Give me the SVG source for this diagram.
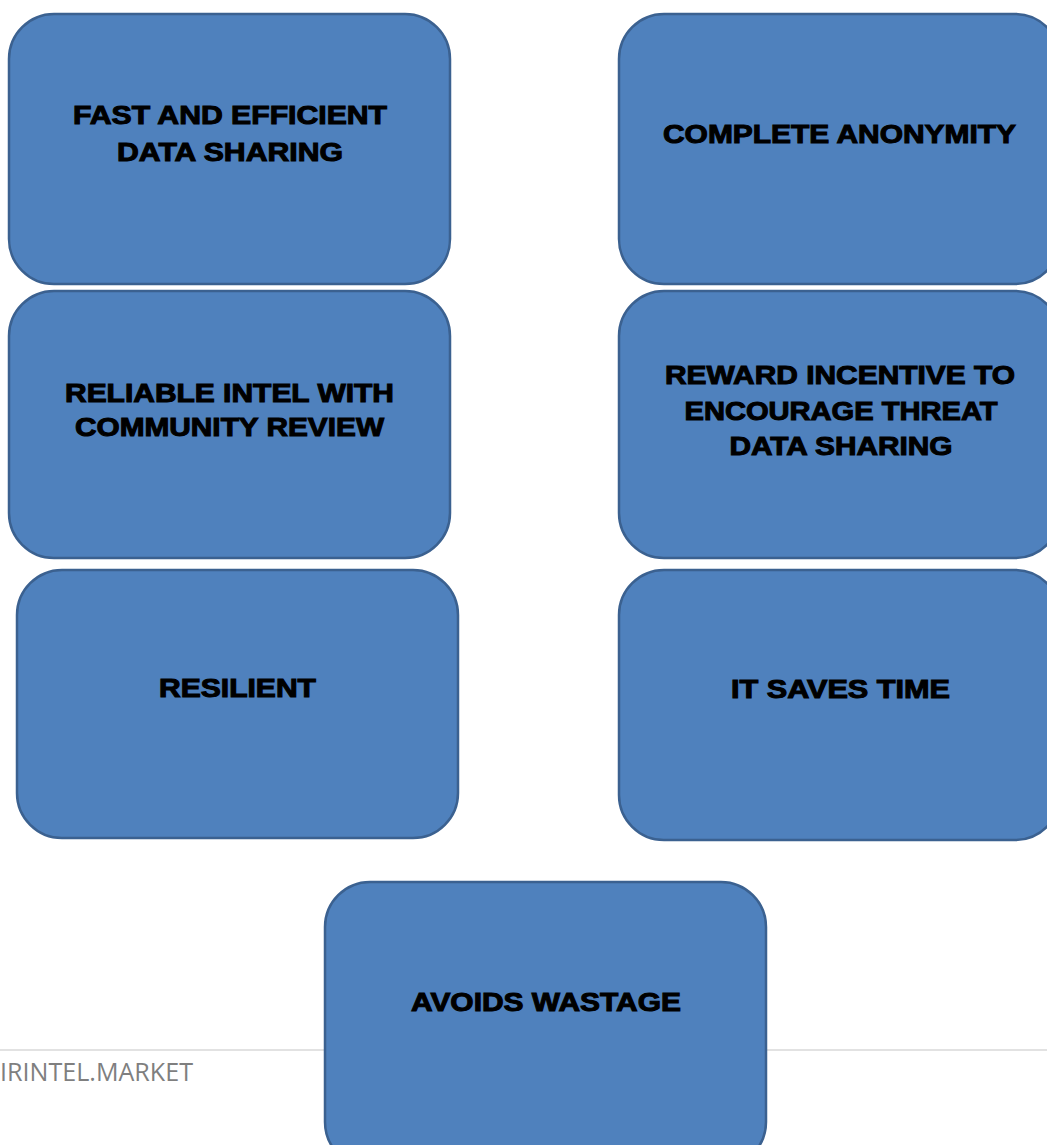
<svg xmlns="http://www.w3.org/2000/svg" width="1047" height="1145" viewBox="0 0 1047 1145">
<style>
.box{fill:#4f81bd;stroke:#3b6190;stroke-width:2.5}
.lbl{font-family:"Liberation Sans",Arial,sans-serif;font-weight:bold;font-size:25px;fill:#000;stroke:#000;stroke-width:1;text-anchor:middle}
.foot{font-family:"Open Sans","Liberation Sans",sans-serif;font-size:25px;fill:#7f7f7f}
</style>
<rect width="1047" height="1145" fill="#fff"/>
<g id="footer">
<line x1="0" y1="1050" x2="1047" y2="1050" stroke="#d9d9d9" stroke-width="1.5"/>
<text class="foot" x="0" y="1081" textLength="193" lengthAdjust="spacingAndGlyphs">IRINTEL.MARKET</text>
</g>
<g id="connectors"></g>
<g id="n1">
<rect class="box" x="9" y="14" width="441" height="270" rx="45"/>
<text class="lbl" x="230" y="124" textLength="314" lengthAdjust="spacingAndGlyphs">FAST AND EFFICIENT</text>
<text class="lbl" x="230" y="161" textLength="226" lengthAdjust="spacingAndGlyphs">DATA SHARING</text>
</g>
<g id="n2">
<rect class="box" x="619" y="14" width="441" height="270" rx="45"/>
<text class="lbl" x="839.5" y="143" textLength="353" lengthAdjust="spacingAndGlyphs">COMPLETE ANONYMITY</text>
</g>
<g id="n3">
<rect class="box" x="9" y="291" width="441" height="267" rx="45"/>
<text class="lbl" x="229.5" y="402" textLength="329" lengthAdjust="spacingAndGlyphs">RELIABLE INTEL WITH</text>
<text class="lbl" x="229.5" y="436" textLength="309" lengthAdjust="spacingAndGlyphs">COMMUNITY REVIEW</text>
</g>
<g id="n4">
<rect class="box" x="619" y="291" width="441" height="267" rx="45"/>
<text class="lbl" x="840" y="384" textLength="350" lengthAdjust="spacingAndGlyphs">REWARD INCENTIVE TO</text>
<text class="lbl" x="841" y="420" textLength="313" lengthAdjust="spacingAndGlyphs">ENCOURAGE THREAT</text>
<text class="lbl" x="841" y="455" textLength="223" lengthAdjust="spacingAndGlyphs">DATA SHARING</text>
</g>
<g id="n5">
<rect class="box" x="17" y="570" width="441" height="268" rx="45"/>
<text class="lbl" x="237.5" y="697" textLength="157" lengthAdjust="spacingAndGlyphs">RESILIENT</text>
</g>
<g id="n6">
<rect class="box" x="619" y="570" width="441" height="270" rx="45"/>
<text class="lbl" x="840.5" y="698" textLength="219" lengthAdjust="spacingAndGlyphs">IT SAVES TIME</text>
</g>
<g id="n7">
<rect class="box" x="325" y="882" width="441" height="285" rx="45"/>
<text class="lbl" x="546" y="1011" textLength="270" lengthAdjust="spacingAndGlyphs">AVOIDS WASTAGE</text>
</g>
</svg>
